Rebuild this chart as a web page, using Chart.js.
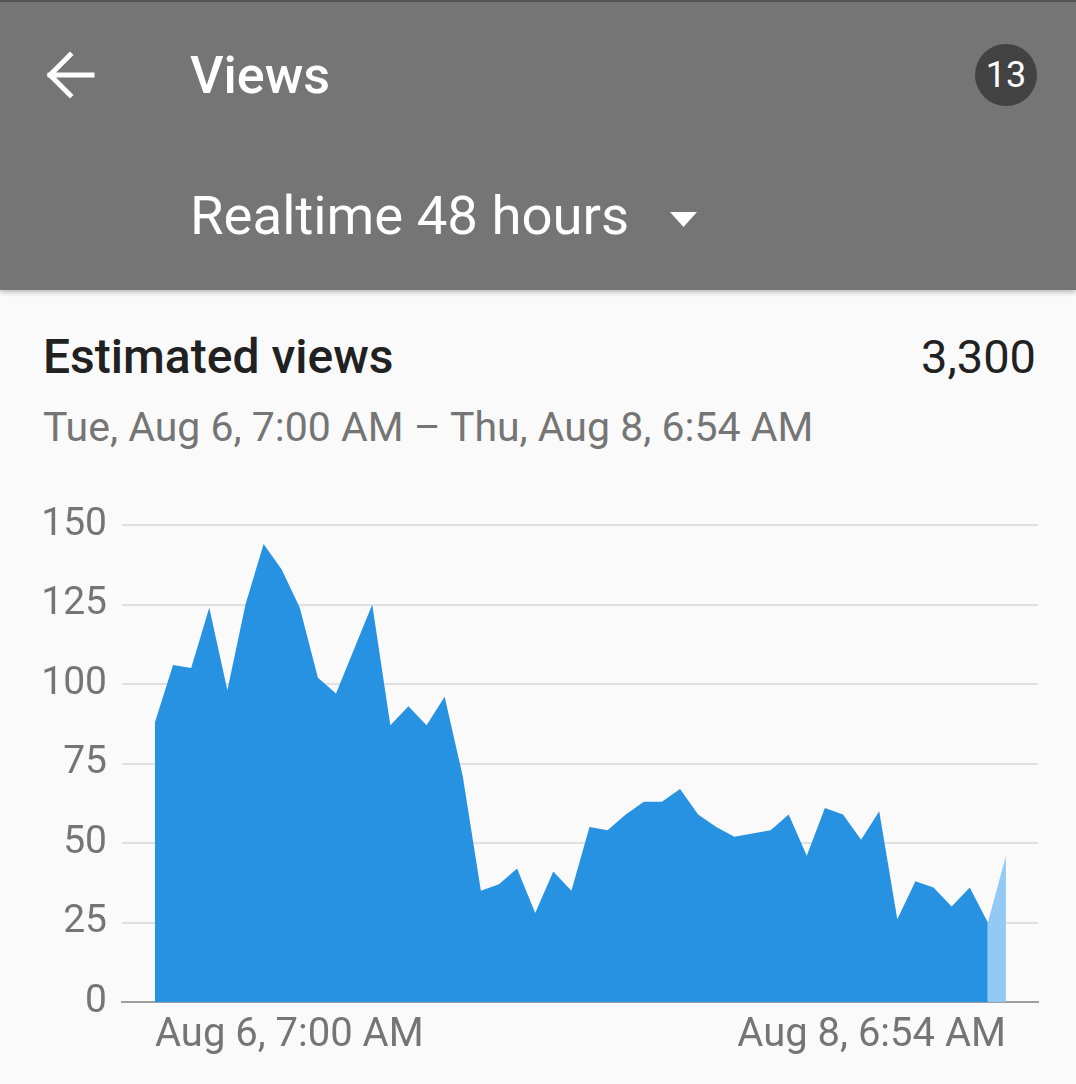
<!DOCTYPE html>
<html>
<head>
<meta charset="utf-8">
<title>Views</title>
<script src="https://cdn.jsdelivr.net/npm/chart.js@4.4.1/dist/chart.umd.min.js"></script>
<style>
  body { margin: 0; width: 1076px; height: 1084px; background: #fafafa; font-family: Roboto, "Noto Sans", sans-serif; overflow: hidden; position: relative; }
  .bar { position: absolute; left: 0; top: 0; width: 1076px; height: 290px; background: #757575; border-top: 2px solid #555; box-sizing: border-box; box-shadow: 0 2px 5px rgba(0,0,0,0.28); }
  .txt { position: absolute; white-space: nowrap; }
  #wrap { position: absolute; left: 0; top: 470px; width: 1076px; height: 614px; }
</style>
</head>
<body>
<div class="bar">
  <svg class="txt" style="left:40px;top:45px" width="60" height="60">
    <path d="M10 28 H52 M30 8 L10 28 L30 48" stroke="#fff" stroke-width="5" fill="none" stroke-linecap="square"/>
  </svg>
  <div class="txt" style="left:190px;top:48px;font-size:52px;line-height:52px;font-weight:500;color:#fff">Views</div>
  <div class="txt" style="left:975px;top:42px;width:62px;height:62px;border-radius:31px;background:#424242;color:#fff;font-size:36px;line-height:62px;text-align:center">13</div>
  <div class="txt" style="left:190px;top:186px;font-size:54.5px;line-height:54px;color:#fff">Realtime 48 hours</div>
  <svg class="txt" style="left:668px;top:208px" width="32" height="20">
    <path d="M2 2 H29 L15.5 17 Z" fill="#fff"/>
  </svg>
</div>
<div class="txt" style="left:43px;top:334px;font-size:48px;line-height:46px;font-weight:500;color:#212121">Estimated views</div>
<div class="txt" style="right:40px;top:334px;font-size:47px;line-height:46px;color:#212121">3,300</div>
<div class="txt" style="left:43px;top:407px;font-size:41px;line-height:40px;color:#757575">Tue, Aug 6, 7:00 AM – Thu, Aug 8, 6:54 AM</div>
<div id="wrap"><canvas id="chart"></canvas></div>
<script>
// hourly views, last hour still in progress
var views = [88, 106, 105, 124, 98, 125, 144, 136, 124, 102,
             97, 111, 125, 87, 93, 87, 96, 71, 35, 37,
             42, 28, 41, 35, 55, 54, 59, 63, 63, 67,
             59, 55, 52, 53, 54, 59, 46, 61, 59, 51,
             60, 26, 38, 36, 30, 36, 25, 46]
var xTickLabels = ['Aug 6, 7:00 AM', 'Aug 8, 6:54 AM']
var yTicks = [0, 25, 50, 75, 100, 125, 150]

var blue = '#2892e2'
var lightBlue = '#93c9f5'
var last = views.length - 1

var ctx = document.getElementById('chart').getContext('2d')
var chart = new Chart(ctx, {
  type: 'line',
  data: {
    datasets: [{
      data: views.map(function(v, i) { return {x: i, y: v} }),
      fill: 'origin',
      backgroundColor: blue,
      borderColor: 'transparent',
      borderWidth: 0,
      pointRadius: 0,
      tension: 0,
      segment: {
        backgroundColor: function(c) { return c.p1DataIndex === last ? lightBlue : undefined }
      }
    }]
  },
  options: {
    responsive: true,
    maintainAspectRatio: false,
    animation: false,
    layout: { padding: { top: 55, right: 38, left: 0, bottom: 0 } },
    plugins: { legend: { display: false }, tooltip: { enabled: false } },
    scales: {
      x: {
        type: 'linear',
        min: -1.82,
        max: last + 1.77,
        afterBuildTicks: function(scale) {
          scale.ticks = [{value: 0}, {value: last}]
        },
        afterFit: function(scale) { scale.height = 82 },
        grid: { display: false, drawTicks: false },
        border: { display: true, color: '#9e9e9e', width: 2 },
        ticks: {
          autoSkip: false,
          maxRotation: 0,
          align: 'inner',
          padding: 10,
          color: '#757575',
          font: { family: 'Roboto', size: 40 },
          callback: function(v, i) { return xTickLabels[i] }
        }
      },
      y: {
        min: 0,
        max: 150,
        afterBuildTicks: function(scale) {
          scale.ticks = yTicks.map(function(v) { return {value: v} })
        },
        afterFit: function(scale) { scale.width = 122 },
        grid: {
          drawTicks: false,
          lineWidth: 2,
          color: function(c) { return c.tick && c.tick.value === 0 ? 'transparent' : '#e0e0e0' }
        },
        border: { display: false },
        ticks: {
          padding: 15,
          color: '#757575',
          font: { family: 'Roboto', size: 39 }
        }
      }
    }
  }
})
</script>
</body>
</html>
